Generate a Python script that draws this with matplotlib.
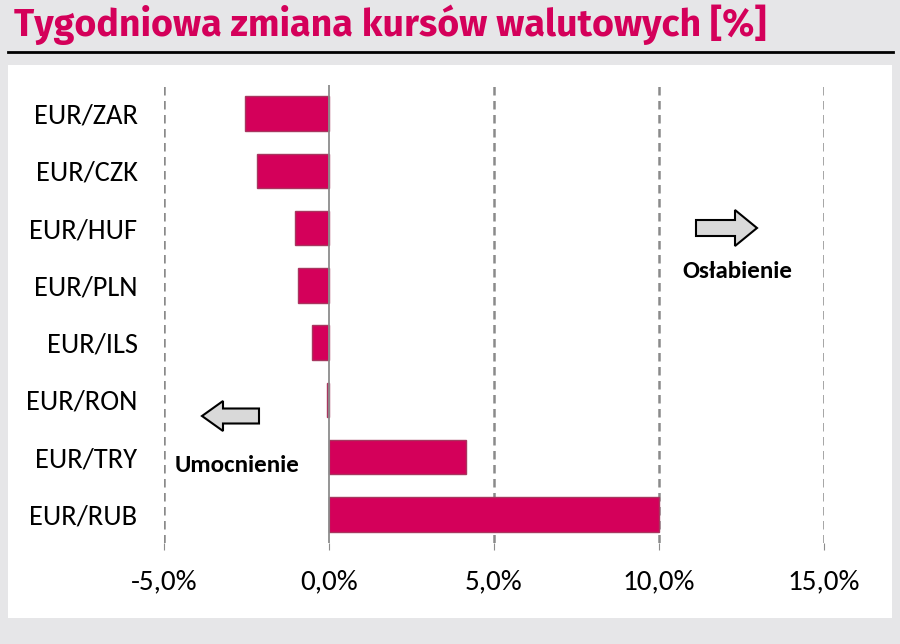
import matplotlib
matplotlib.use("Agg")
import matplotlib.pyplot as plt
from matplotlib.patches import Rectangle, FancyArrow
from matplotlib.lines import Line2D

pairs = ["EUR/ZAR", "EUR/CZK", "EUR/HUF", "EUR/PLN", "EUR/ILS", "EUR/RON", "EUR/TRY", "EUR/RUB"]
changes = [-2.55, -2.18, -1.03, -0.94, -0.52, -0.06, 4.15, 10.0]
xticks = [-5, 0, 5, 10, 15]
xtick_labels = ["-5,0%", "0,0%", "5,0%", "10,0%", "15,0%"]

W, H = 900, 644
fig = plt.figure(figsize=(9, 6.44), dpi=100)
fig.patch.set_facecolor("#e6e6e8")

# white panel and title rule
fig.patches.append(Rectangle((8 / W, 1 - 618 / H), 884 / W, 553 / H,
                             transform=fig.transFigure, facecolor="white",
                             edgecolor="none", zorder=-5))
fig.lines.append(Line2D([8 / W, 893 / W], [1 - 52 / H, 1 - 52 / H],
                        transform=fig.transFigure, color="black", lw=2))
fig.text(14 / W, 1 - 36 / H, "Tygodniowa zmiana kursów walutowych [%]",
         fontsize=27, fontweight="bold", color="#d4005a",
         family="Fira Sans", va="baseline")

ax = fig.add_axes([164 / W, 1 - 543 / H, 660 / W, 458 / H])
ax.set_facecolor("none")

ypos = list(range(len(pairs)))
ax.barh(ypos, changes, height=0.6, color="#d4005a", edgecolor="#a8365f",
        linewidth=1, zorder=3)
ax.set_ylim(len(pairs) - 0.5, -0.5)
ax.set_xlim(-5, 15)

for x in xticks:
    if x == 0:
        ax.axvline(x, color="#8c8c8c", lw=1.3, zorder=4)
    else:
        ax.axvline(x, color="#8a8a8a", lw=1.8, ls=(0, (3.4, 2.2)), zorder=1)

ax.set_yticks(ypos)
ax.set_yticklabels(pairs, family="Carlito", fontsize=20.5)
ax.set_xticks(xticks)
ax.set_xticklabels(xtick_labels, family="Carlito", fontsize=21)
ax.tick_params(axis="y", length=0, pad=19)
ax.tick_params(axis="x", length=5, color="#8c8c8c", pad=14)
for s in ax.spines.values():
    s.set_visible(False)

# direction arrows
ax_fig = fig.add_axes([0, 0, 1, 1], facecolor="none")
ax_fig.set_xlim(0, W)
ax_fig.set_ylim(H, 0)
ax_fig.axis("off")
ax_fig.add_patch(FancyArrow(259, 416, -36, 0, width=15, head_width=30,
                            head_length=21, length_includes_head=False,
                            facecolor="#d9d9d9", edgecolor="black", lw=1.5))
ax_fig.add_patch(FancyArrow(696, 228, 39, 0, width=16, head_width=36,
                            head_length=22, length_includes_head=False,
                            facecolor="#d9d9d9", edgecolor="black", lw=1.5))
ax_fig.text(237, 465, "Umocnienie", ha="center", va="center",
            fontsize=18, fontweight="bold", family="Carlito")
ax_fig.text(737, 271, "Osłabienie", ha="center", va="center",
            fontsize=18, fontweight="bold", family="Carlito")

fig.savefig("out.png", dpi=100, facecolor=fig.get_facecolor())
